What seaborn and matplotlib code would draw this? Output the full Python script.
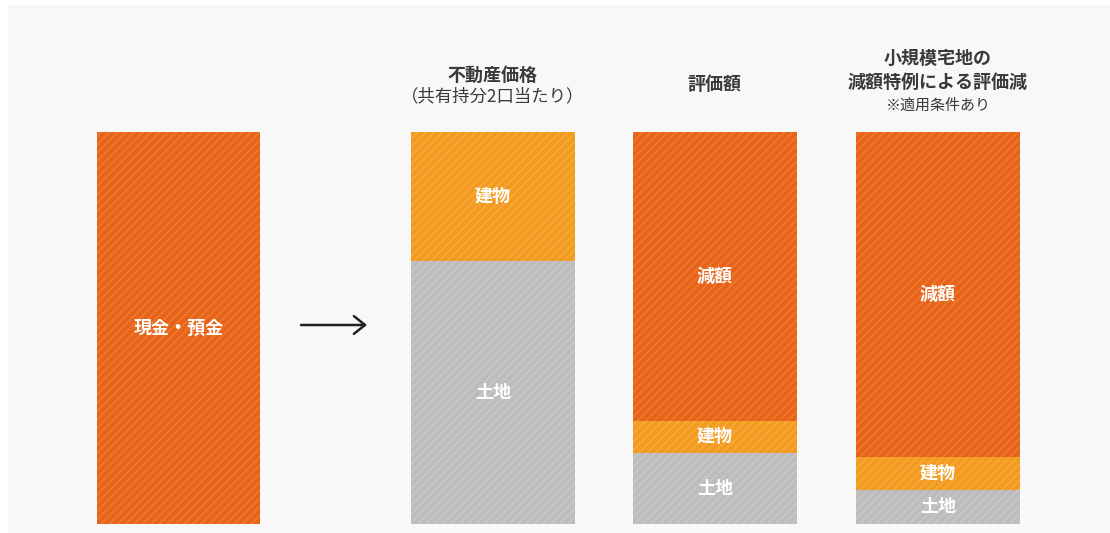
import numpy as np
import pandas as pd
import matplotlib.pyplot as plt
import seaborn as sns
from matplotlib.patches import Rectangle

# Bar values, as a share of the cash amount (%), stacked bottom -> top
bar_names = ['現金・預金', '不動産価格', '評価額', '小規模宅地']
land = [0, 67, 18, 8.7]
building = [0, 33, 8.4, 8.4]
reduction = [0, 0, 73.6, 82.9]
cash = [100, 0, 0, 0]

layer_names = ['土地', '建物', '減額', '現金・預金']

# Column headings above the bars (bar 1 has none)
headings = [
    [],
    [('不動産価格', 'bold', 13), ('（共有持分2口当たり）', 'normal', 12.5)],
    [('評価額', 'bold', 13)],
    [('小規模宅地の', 'bold', 13), ('減額特例による評価減', 'bold', 13), ('※適用条件あり', 'normal', 10.8)],
]

# Layout (not data): x positions of the bars, pixel mapping of the 1110x533 picture
x_pos = [0, 1.413, 2.411, 3.413]
px_per_x = 222.5
px_per_y = 3.92
x0_px, y0_px = 178.5, 524

sns.set_theme(style='white')
plt.rcParams['font.family'] = ['Noto Sans CJK JP', 'DejaVu Sans']
plt.rcParams['hatch.linewidth'] = 1.3


def py(pixel_y):
    # pixel row of the reference -> data y
    return (y0_px - pixel_y) / px_per_y


fig = plt.figure(figsize=(11.1, 5.33), dpi=100)
fig.patch.set_facecolor('white')
fig.patches.append(Rectangle((8 / 1110, 0), 1, 1 - 5 / 533, transform=fig.transFigure,
                             facecolor='#f8f8f8', edgecolor='none', zorder=-10))
ax = fig.add_axes([0, 0, 1, 1])
ax.patch.set_alpha(0)

layers = [land, building, reduction, cash]
styles = [
    ('#bcbcbc', '#c6c6c6'),
    ('#f39b1f', '#f5a93d'),
    ('#e8631a', '#ed772e'),
    ('#e8631a', '#ed772e'),
]
cum = np.cumsum(np.array(layers, dtype=float), axis=0)

# draw from the top layer down, so each lower layer covers the one before
for k in range(len(layers) - 1, -1, -1):
    df = pd.DataFrame({'x': x_pos, 'top': cum[k]})
    face, stripe = styles[k]
    sns.barplot(data=df, x='x', y='top', native_scale=True, width=164 / px_per_x,
                color=face, saturation=1, errorbar=None, ax=ax,
                hatch='////', edgecolor=stripe, linewidth=0)

# segment labels
for k, seg in enumerate(layers):
    bottoms = cum[k] - np.array(seg)
    for i, v in enumerate(seg):
        if v > 0:
            ax.text(x_pos[i], bottoms[i] + v / 2, layer_names[k], color='white',
                    fontsize=13, fontweight='bold', ha='center', va='center')

# headings
head_rows = {1: [75, 96], 2: [85], 3: [58, 82, 106]}
for i, lines in enumerate(headings):
    for (txt, w, fs), row in zip(lines, head_rows.get(i, [])):
        ax.text(x_pos[i], py(row), txt, color='#3a3a3a', fontsize=fs, fontweight=w,
                ha='center', va='center')

# arrow between cash and real estate
ax.annotate('', xy=((367 - x0_px) / px_per_x, py(325)), xytext=((301 - x0_px) / px_per_x, py(325)),
            arrowprops=dict(arrowstyle='->,head_length=0.5,head_width=0.4', mutation_scale=16,
                            color='#222222', lw=1.8, shrinkA=0, shrinkB=0))

ax.set_xlim(-x0_px / px_per_x, (1110 - x0_px) / px_per_x)
ax.set_ylim(py(533), py(0))
ax.axis('off')

fig.savefig('out.png', dpi=100)
